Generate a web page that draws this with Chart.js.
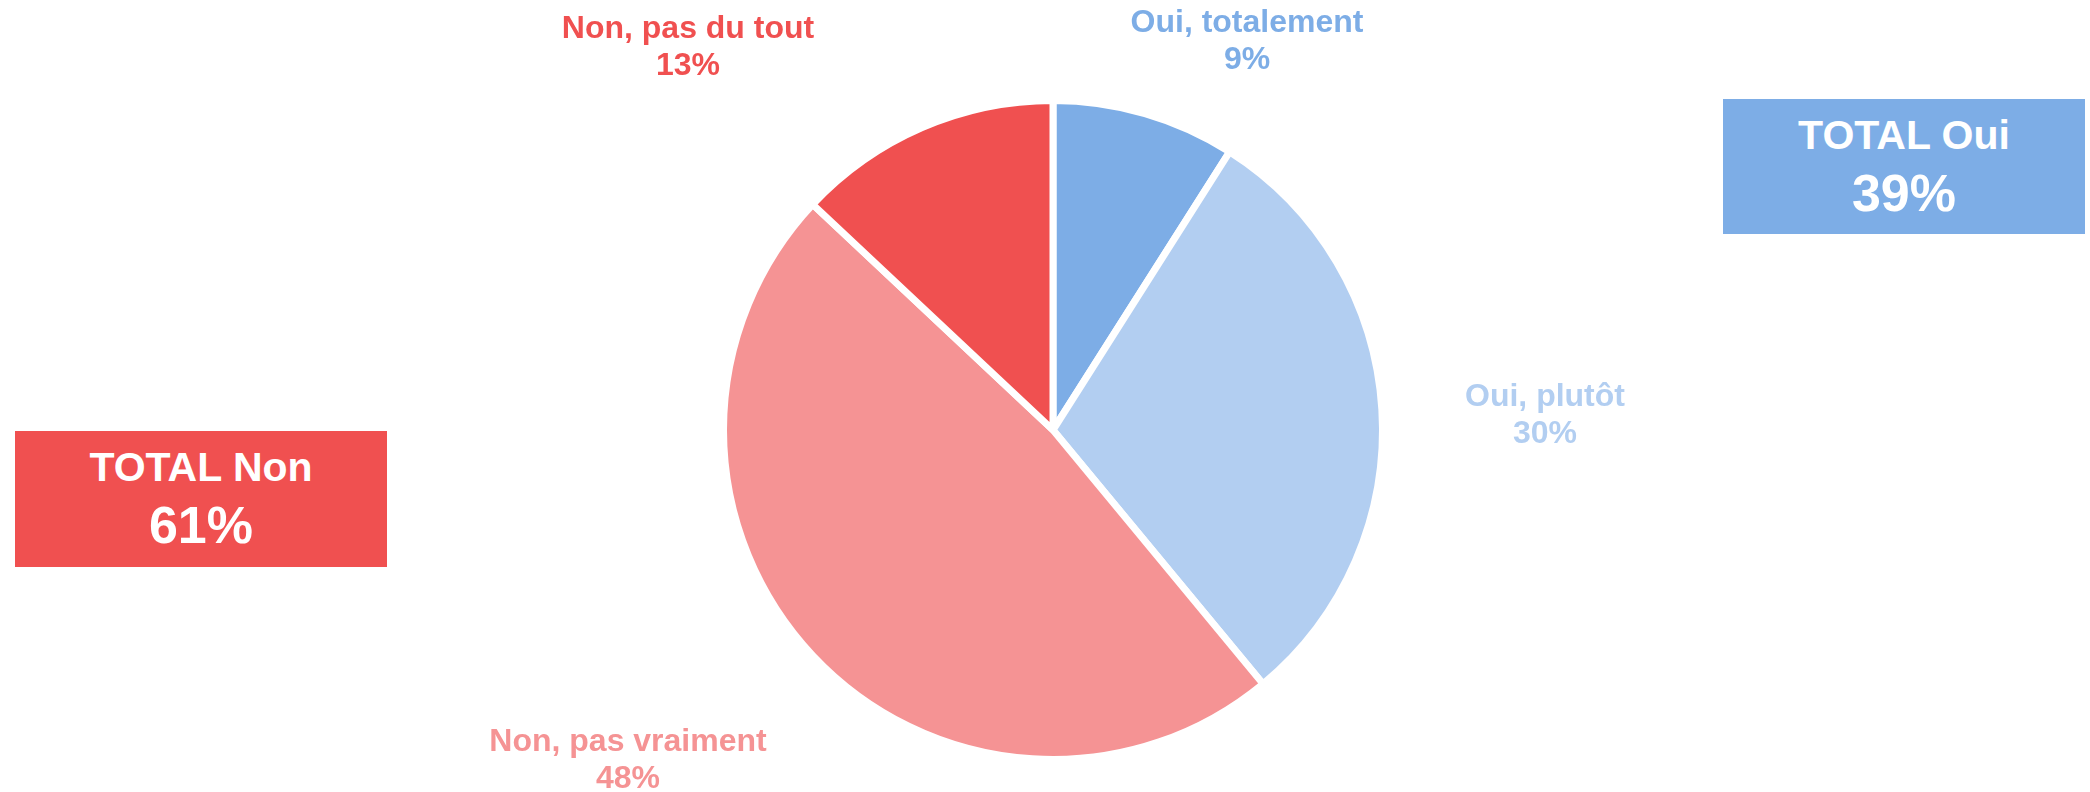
<!DOCTYPE html>
<html lang="fr">
<head>
<meta charset="utf-8">
<title>Oui / Non</title>
<script src="https://cdn.jsdelivr.net/npm/chart.js@4/dist/chart.umd.min.js"></script>
<style>
    html, body { margin: 0; padding: 0; background: #fff; }
    body { width: 2090px; height: 792px; position: relative; overflow: hidden;
           font-family: "Liberation Sans", Arial, sans-serif; font-weight: bold; }
    #wrap { position: absolute; left: 0; top: 0; width: 2090px; height: 792px; }
    .slice-label { position: absolute; transform: translateX(-50%); text-align: center;
                   font-size: 32px; line-height: 36.5px; white-space: nowrap; }
    .total-box { position: absolute; color: #fff; text-align: center; box-sizing: border-box; padding-top: 13px; }
    .total-box .t1 { font-size: 41px; line-height: 46px; white-space: nowrap; }
    .total-box .t2 { font-size: 52px; line-height: 70px; }
</style>
</head>
<body>
<div id="wrap"><canvas id="pieChart" width="2090" height="792"></canvas></div>
<script>
// data
const categories = ['Oui, totalement', 'Oui, plutôt', 'Non, pas vraiment', 'Non, pas du tout'];
const values = [9, 30, 48, 13];
const groups = ['Oui', 'Oui', 'Non', 'Non'];
const colors = ['#7DADE6', '#B2CEF1', '#F59394', '#F05050'];

// where the slice labels sit (center x, top y)
const labelPos = [
    { x: 1247, y: 3 },
    { x: 1545, y: 377 },
    { x: 628, y: 722 },
    { x: 688, y: 9 }
];

const boxes = [
    { group: 'Oui', color: '#7DADE6', left: 1723, top: 99, width: 362, height: 135 },
    { group: 'Non', color: '#F05050', left: 15, top: 431, width: 372, height: 136 }
];

document.addEventListener('DOMContentLoaded', function() {
    const ctx = document.getElementById('pieChart');

    new Chart(ctx, {
        type: 'pie',
        data: {
            labels: categories,
            datasets: [{
                data: values,
                backgroundColor: colors,
                borderColor: '#ffffff',
                borderWidth: 7
            }]
        },
        options: {
            responsive: false,
            animation: false,
            layout: { padding: { top: 97, bottom: 29, left: 16, right: 0 } },
            plugins: {
                legend: { display: false },
                tooltip: { enabled: false }
            }
        }
    });

    // slice labels
    categories.forEach((cat, i) => {
        const el = document.createElement('div');
        el.className = 'slice-label';
        el.style.left = labelPos[i].x + 'px';
        el.style.top = labelPos[i].y + 'px';
        el.style.color = colors[i];
        el.innerHTML = cat + '<br>' + values[i] + '%';
        document.body.appendChild(el);
    });

    // totals
    boxes.forEach(b => {
        const total = values.reduce((sum, v, i) => groups[i] === b.group ? sum + v : sum, 0);
        const el = document.createElement('div');
        el.className = 'total-box';
        el.style.left = b.left + 'px';
        el.style.top = b.top + 'px';
        el.style.width = b.width + 'px';
        el.style.height = b.height + 'px';
        el.style.background = b.color;
        el.innerHTML = '<div class="t1">TOTAL ' + b.group + '</div><div class="t2">' + total + '%</div>';
        document.body.appendChild(el);
    });
});
</script>
</body>
</html>
